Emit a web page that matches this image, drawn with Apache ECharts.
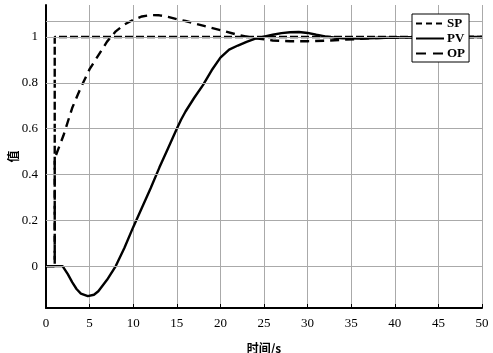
<!DOCTYPE html>
<html>
<head>
<meta charset="utf-8">
<script src="https://cdn.jsdelivr.net/npm/echarts@6/dist/echarts.min.js"></script>
<style>
  html, body { margin: 0; padding: 0; background: #fff; }
  #chart { width: 493px; height: 353px; }
</style>
</head>
<body>
<div id="chart"></div>
<script>
// step response data
const spData = [[0, 0], [1, 0], [1, 1], [50, 1]];
const pvData = [
  [0, 0], [1.9, 0], [2.5, -0.035], [3, -0.07], [3.5, -0.1], [4, -0.12], [4.8, -0.131],
  [5.5, -0.125], [6, -0.11], [7, -0.06], [8, 0], [9, 0.08], [10, 0.17], [11, 0.255],
  [12, 0.34], [13, 0.43], [14, 0.515], [15, 0.6], [15.5, 0.64], [16, 0.675], [17, 0.735],
  [18, 0.79], [19, 0.855], [20, 0.91], [21, 0.945], [22, 0.963], [23, 0.979], [24, 0.993],
  [25, 1.002], [26, 1.01], [27, 1.017], [28, 1.021], [29, 1.022], [30, 1.018], [31, 1.01],
  [32, 1.003], [33, 0.998], [34, 0.995], [36, 0.994], [38, 0.996], [40, 0.998], [45, 1.0], [50, 1.0]
];
const opData = [
  [0, 0], [1, 0], [1, 0.47], [2, 0.57], [3, 0.69], [4, 0.78], [5, 0.86], [6, 0.92], [7, 0.98],
  [8, 1.025], [9, 1.055], [10, 1.075], [11, 1.09], [12, 1.096], [13, 1.095], [14, 1.088],
  [15, 1.078], [16, 1.07], [18, 1.05], [20, 1.03], [22, 1.01], [24, 0.995], [26, 0.985],
  [28, 0.982], [30, 0.982], [32, 0.984], [34, 0.988], [36, 0.992], [38, 0.996], [40, 0.998],
  [45, 1.0], [50, 1.0]
];
const yLabels = [0, 0.2, 0.4, 0.6, 0.8, 1];
const yGrid = [0, 0.2, 0.4, 0.6, 0.8, 1, 1.07];

const serif = 'Liberation Serif';
const chart = echarts.init(document.getElementById('chart'));

// legend icons: dash pattern drawn as little bars in a 28x12 box
// (tiny corner dots keep the box size so the bars are not stretched)
const box = 'M0,0h0.01v0.01h-0.01z M27.99,11.99h0.01v0.01h-0.01z ';
function dashIcon(dashes) {
  return 'path://' + box + dashes.map(d => 'M' + d[0] + ',5h' + (d[1] - d[0]) + 'v2h' + (d[0] - d[1]) + 'z').join(' ');
}

function lineSeries(name, data, type) {
  return {
    name: name, type: 'line', data: data, symbol: 'none', smooth: false,
    lineStyle: {color: '#000', width: 2.4, type: type},
    itemStyle: {color: '#000'}, z: 3
  };
}

chart.setOption({
  animation: false,
  grid: {left: 46, right: 11, top: 5, bottom: 45, outerBoundsMode: 'none', containLabel: false},
  legend: {
    left: 412, top: 14, orient: 'vertical', zlevel: 1, z: 10,
    backgroundColor: '#fff', borderColor: '#000', borderWidth: 1,
    padding: [3, 4, 2, 4], itemGap: 2, itemWidth: 28, itemHeight: 12,
    textStyle: {fontFamily: serif, fontSize: 13, fontWeight: 'bold', color: '#000', padding: [0, 0, 0, -2]},
    data: [
      {name: 'SP', icon: dashIcon([[0, 6], [10, 16], [20, 26]])},
      {name: 'PV', icon: dashIcon([[0, 28]])},
      {name: 'OP', icon: dashIcon([[0, 10], [17, 27]])}
    ]
  },
  xAxis: {
    type: 'value', min: 0, max: 50, interval: 5,
    name: '时间/s', nameLocation: 'middle', nameGap: 34,
    nameTextStyle: {fontFamily: 'Noto Sans CJK SC', fontSize: 12, fontWeight: 'bold', color: '#000'},
    axisLine: {onZero: false, lineStyle: {color: '#000', width: 2}},
    axisTick: {inside: true, length: 4, lineStyle: {color: '#000'}},
    axisLabel: {fontFamily: serif, fontSize: 13, color: '#000', margin: 9},
    splitLine: {show: true, lineStyle: {color: '#aaa', width: 1}}
  },
  yAxis: {
    type: 'value', min: -0.183, max: 1.14,
    name: '值', nameLocation: 'middle', nameGap: 27, nameRotate: 90, nameMoveOverlap: false,
    nameTextStyle: {fontFamily: 'Noto Sans CJK SC', fontSize: 12, fontWeight: 'bold', color: '#000'},
    axisLine: {show: true, onZero: false, lineStyle: {color: '#000', width: 2}},
    axisTick: {show: true, inside: true, length: 4, customValues: yGrid, lineStyle: {color: '#000'}},
    axisLabel: {fontFamily: serif, fontSize: 13, color: '#000', margin: 8, customValues: yLabels},
    splitLine: {show: false}
  },
  series: [
    {
      name: 'grid', type: 'line', data: [], silent: true, z: 1,
      markLine: {
        silent: true, symbol: 'none', animation: false,
        label: {show: false},
        lineStyle: {color: '#aaa', width: 1, type: 'solid'},
        data: yGrid.map(v => ({yAxis: v}))
      }
    },
    lineSeries('SP', spData, [8, 3]),
    lineSeries('PV', pvData, 'solid'),
    lineSeries('OP', opData, [9, 6])
  ]
});
</script>
</body>
</html>
